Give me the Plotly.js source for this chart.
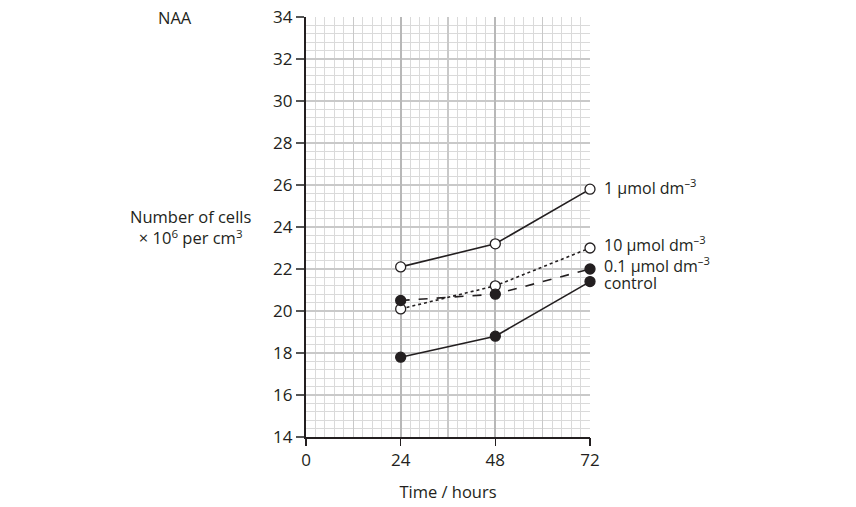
<!DOCTYPE html>
<html>
<head>
<meta charset="utf-8">
<script src="https://cdn.plot.ly/plotly-3.0.1.min.js"></script>
<style>html,body{margin:0;padding:0;background:#fff;}#chart{width:856px;height:507px;}</style>
</head>
<body>
<div id="chart"></div>
<script>
// Data
const times = [24, 48, 72];
const conc1 = [22.1, 23.2, 25.8];      // 1 µmol dm-3
const conc10 = [20.1, 21.2, 23.0];     // 10 µmol dm-3
const conc01 = [20.5, 20.8, 22.0];     // 0.1 µmol dm-3
const control = [17.8, 18.8, 21.4];    // control
const xTicks = [0, 24, 48, 72];
const yTicks = [14, 16, 18, 20, 22, 24, 26, 28, 30, 32, 34];
const seriesNames = ['1 μmol dm<sup>–3</sup>', '10 μmol dm<sup>–3</sup>', '0.1 μmol dm<sup>–3</sup>', 'control'];

const ink = '#231f20';
const FONT = 'Open Sans, Noto Sans, DejaVu Sans, sans-serif';

function tr(y, name, dash, open) {
  return {
    x: times, y: y, name: name, type: 'scatter', mode: 'lines+markers',
    xaxis: 'x2', yaxis: 'y2', cliponaxis: false,
    line: {color: ink, width: 1.6, dash: dash},
    marker: {size: 10, color: open ? '#ffffff' : ink, line: {color: ink, width: 1.3}},
    showlegend: false, hoverinfo: 'skip'
  };
}

const data = [
  // invisible trace so the base (grid) subplot is drawn
  {x: [null], y: [null], type: 'scatter', mode: 'markers', xaxis: 'x', yaxis: 'y', showlegend: false, hoverinfo: 'skip'},
  tr(conc1, seriesNames[0], 'solid', true),
  tr(conc10, seriesNames[1], 'dot', true),
  tr(conc01, seriesNames[2], 'dash', false),
  tr(control, seriesNames[3], 'solid', false)
];

const series = [conc1, conc10, conc01, control];
const labelShift = [2, 4, 4, -1];
const annotations = series.map((s, i) => ({
  xref: 'x2', yref: 'y2', x: times[times.length - 1], y: s[s.length - 1],
  text: seriesNames[i], showarrow: false, xanchor: 'left', yanchor: 'middle',
  xshift: 12, yshift: labelShift[i], font: {family: FONT, size: 16, color: ink}
}));
annotations.push({
  xref: 'paper', yref: 'paper', x: -0.46, y: 1.0, xanchor: 'center', yanchor: 'middle',
  text: 'NAA', showarrow: false, font: {family: FONT, size: 16.5, color: ink}
});
annotations.push({
  xref: 'paper', yref: 'paper', x: -0.405, y: 0.50, xanchor: 'center', yanchor: 'middle',
  text: 'Number of cells<br>× 10<sup>6</sup> per cm<sup>3</sup>', showarrow: false,
  font: {family: FONT, size: 16.5, color: ink}, align: 'center'
});

const layout = {
  width: 856, height: 507,
  margin: {l: 306, r: 266, t: 17, b: 70},
  paper_bgcolor: '#ffffff', plot_bgcolor: '#ffffff',
  font: {family: FONT, color: ink},
  xaxis: {
    range: [0, 72], dtick: 12, tick0: 0, showgrid: true, gridcolor: '#c9c9c9', gridwidth: 1.4,
    minor: {dtick: 2.4, tick0: 0, showgrid: true, gridcolor: '#dadada', gridwidth: 1},
    showline: true, linecolor: ink, linewidth: 2.2,
    showticklabels: false, ticks: '', zeroline: false, fixedrange: true
  },
  yaxis: {
    range: [14, 34], tickvals: yTicks, ticktext: yTicks.map(String),
    showgrid: true, gridcolor: '#c9c9c9', gridwidth: 1.4,
    minor: {dtick: 0.4, tick0: 14, showgrid: true, gridcolor: '#dadada', gridwidth: 1},
    showline: true, linecolor: ink, linewidth: 2.2,
    ticks: 'outside', ticklen: 8, tickwidth: 1.5, tickcolor: '#555',
    tickfont: {family: FONT, size: 17, color: ink}, zeroline: false, fixedrange: true
  },
  xaxis2: {
    overlaying: 'x', range: [0, 72], tickvals: xTicks, ticktext: xTicks.map(String),
    showgrid: true, gridcolor: '#b8b8b8', gridwidth: 2,
    showline: false, ticks: 'outside', ticklen: 8, tickwidth: 1.5, tickcolor: ink,
    tickfont: {family: FONT, size: 17, color: ink}, zeroline: false, fixedrange: true,
    anchor: 'y2', side: 'bottom',
    title: {text: 'Time / hours', font: {family: FONT, size: 16.5, color: ink}, standoff: 16}
  },
  yaxis2: {
    overlaying: 'y', range: [14, 34], showgrid: false, showticklabels: false,
    ticks: '', showline: false, zeroline: false, fixedrange: true
  },
  annotations: annotations
};

Plotly.newPlot('chart', data, layout, {staticPlot: true, displayModeBar: false});
</script>
</body>
</html>
